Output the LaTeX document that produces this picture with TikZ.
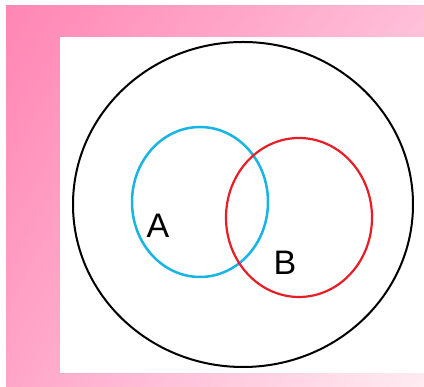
\documentclass[tikz,border=0pt]{standalone}
\usepackage{fontspec}
\setmainfont{Liberation Sans}
\usetikzlibrary{shadings}
\definecolor{pinkdark}{RGB}{255,134,180}
\definecolor{pinkmid}{RGB}{255,190,215}
\definecolor{pinkside}{RGB}{255,165,200}
\definecolor{pinklight}{RGB}{255,236,242}
\definecolor{setcyan}{RGB}{24,180,228}
\definecolor{setred}{RGB}{230,30,40}
\begin{document}
\begin{tikzpicture}[
    x=1pt,y=1pt,
    setline/.style={draw=#1,line width=2.2pt},
    setlabel/.style={font=\fontsize{34}{34}\selectfont,inner sep=0pt}
]
\useasboundingbox (0,0) rectangle (424,387);

% pink frame and white sheet
\shade[upper left=pinkdark,upper right=pinkmid,lower left=pinkside,lower right=pinklight] (6,0) rectangle (424,381);
\fill[white] (60,14) rectangle (424,350);

% universe and the two sets
\draw[setline=black,line width=2pt] (243,182.5) ellipse [x radius=170,y radius=162.5];
\draw[setline=setcyan,line width=2.5pt] (200,185) ellipse [x radius=68,y radius=75];
\draw[setline=setred] (299,169.5) ellipse [x radius=73,y radius=79.5];

\node[setlabel] (labA) at (158,161) {A};
\node[setlabel] (labB) at (285,124) {B};

\end{tikzpicture}
\end{document}
